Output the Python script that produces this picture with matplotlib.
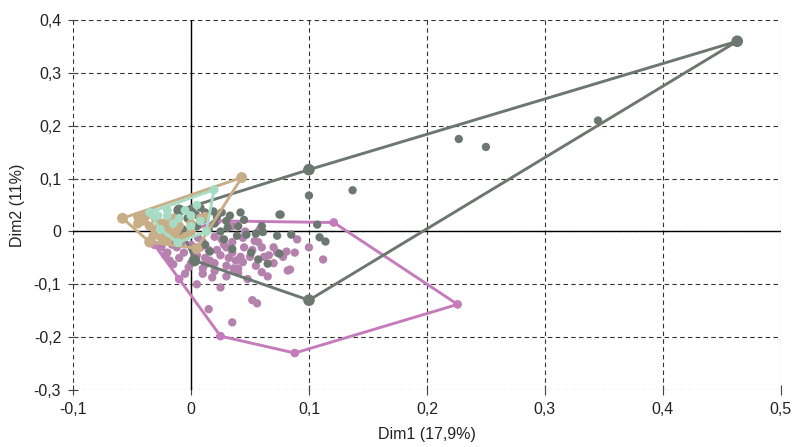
import matplotlib.pyplot as plt
import numpy as np
from matplotlib.ticker import FuncFormatter

plt.rcParams['font.family'] = ['Liberation Sans', 'DejaVu Sans']

# group 1 (dark grey-green)
g1_x = [0.463, 0.345, 0.227, 0.250, 0.100, 0.137, 0.100, 0.076, 0.107, 0.109, 0.114, 0.100,
        0.085, 0.073, 0.061, 0.055, 0.047, 0.031, 0.039, 0.016, 0.051, 0.057, 0.065, 0.075,
        0.035, 0.003, -0.010, -0.008, 0.001, 0.008, 0.012, 0.019, 0.026, 0.042, 0.075, 0.010,
        0.020, 0.030, 0.005, 0.015, 0.025, 0.040, -0.003, 0.033, 0.022, 0.004, 0.045, 0.060,
        0.028, 0.012]
g1_y = [0.360, 0.210, 0.175, 0.160, 0.117, 0.078, 0.068, 0.032, 0.013, -0.011, -0.019, -0.130,
        -0.006, -0.008, -0.001, -0.004, -0.006, 0.007, -0.008, -0.038, -0.040, -0.053, -0.061, -0.042,
        -0.033, -0.055, 0.040, 0.002, 0.044, 0.045, 0.036, 0.038, 0.036, 0.036, 0.032, 0.022,
        0.015, 0.020, 0.010, 0.005, 0.000, 0.010, 0.025, 0.030, 0.028, 0.032, 0.022, 0.010,
        -0.015, -0.025]

# group 2 (mauve / pink)
g2_x = [-0.031, 0.022, 0.121, 0.226, 0.088, 0.025, 0.052, 0.056, 0.035, 0.015, 0.025, 0.018,
        0.082, 0.112, 0.081, 0.073, 0.066, 0.060, 0.065, 0.057, 0.044, 0.050, 0.040, 0.030,
        0.020, 0.010, 0.000, -0.010, -0.020, -0.015, -0.005, 0.005, 0.015, 0.025, 0.035, 0.045,
        0.055, 0.038, 0.028, 0.010, 0.000, -0.010, -0.025, 0.060, 0.070, 0.046, 0.058, 0.035,
        0.020, -0.005, 0.090, 0.100, 0.005, -0.010, 0.030, 0.048, 0.012, 0.002, 0.035, 0.084,
        -0.022, -0.018, -0.012, -0.006, 0.003, 0.008, 0.016, 0.022, 0.032, 0.042, 0.052, 0.062,
        0.070, 0.078, 0.088, -0.016, -0.002, 0.010, 0.020, 0.030, 0.040, 0.006, -0.008, 0.026,
        0.044, 0.012, 0.054, 0.036]
g2_y = [-0.025, 0.020, 0.017, -0.138, -0.230, -0.198, -0.130, -0.136, -0.172, -0.147, -0.106, -0.087,
        -0.074, -0.053, -0.038, -0.040, -0.045, -0.077, -0.085, -0.020, -0.058, -0.048, -0.070, -0.065,
        -0.060, -0.070, -0.060, -0.050, -0.040, -0.062, -0.080, -0.045, -0.035, -0.045, -0.040, -0.030,
        -0.065, -0.055, -0.025, -0.020, -0.025, -0.015, -0.030, -0.030, -0.060, 0.000, 0.003, 0.010,
        -0.010, -0.005, -0.015, -0.030, -0.100, -0.090, -0.085, -0.090, -0.050, -0.035, -0.020, -0.072,
        -0.045, -0.055, -0.030, -0.040, -0.055, -0.030, -0.055, -0.035, -0.050, -0.048, -0.035, -0.048,
        -0.030, -0.048, -0.040, -0.025, -0.068, -0.080, -0.075, -0.030, -0.078, -0.012, -0.022, -0.015,
        -0.012, -0.062, -0.018, -0.070]

# group 3 (tan)
g3_x = [-0.058, 0.043, 0.005, -0.035, -0.045, -0.040, -0.035, -0.030, -0.025, -0.020, -0.015,
        -0.010, -0.005, 0.000, -0.030, -0.020, -0.010, -0.032, -0.025, 0.008, -0.015, 0.000,
        -0.045, 0.012, -0.020, -0.038, -0.028, -0.012]
g3_y = [0.025, 0.102, -0.032, -0.020, 0.028, 0.020, 0.010, 0.000, 0.015, 0.005, -0.005,
        0.010, -0.010, 0.000, 0.025, 0.020, -0.015, -0.008, -0.012, 0.025, 0.025, 0.015,
        0.015, 0.028, -0.018, 0.030, 0.006, 0.002]

# group 4 (mint)
g4_x = [-0.035, 0.0195, 0.013, -0.011, -0.026, -0.020, -0.010, 0.000, 0.008, -0.028, -0.015,
        -0.005, 0.005, -0.020, 0.000]
g4_y = [0.036, 0.079, 0.000, -0.021, 0.004, 0.030, 0.025, 0.030, 0.020, 0.030, 0.015,
        0.040, 0.050, 0.040, 0.010]

groups = [
    (g2_x, g2_y, '#b482ad', '#c57cbc', 36, 36),
    (g1_x, g1_y, '#6c7770', '#6c7770', 36, 70),
    (g3_x, g3_y, '#c8ae86', '#c8ae86', 48, 62),
    (g4_x, g4_y, '#a6dcc4', '#a6dcc4', 40, 40),
]


def hull(xs, ys):
    pts = sorted(set(zip(xs, ys)))

    def cross(o, a, b):
        return (a[0] - o[0]) * (b[1] - o[1]) - (a[1] - o[1]) * (b[0] - o[0])

    lower, upper = [], []
    for p in pts:
        while len(lower) >= 2 and cross(lower[-2], lower[-1], p) <= 0:
            lower.pop()
        lower.append(p)
    for p in reversed(pts):
        while len(upper) >= 2 and cross(upper[-2], upper[-1], p) <= 0:
            upper.pop()
        upper.append(p)
    h = lower[:-1] + upper[:-1]
    return h + [h[0]]


fig = plt.figure(figsize=(7.96, 4.47), dpi=100)
ax = fig.add_axes([0.0917, 0.1275, 0.8893, 0.8275])

ax.axhline(0, color='black', lw=1.0, zorder=1)
ax.axvline(0, color='black', lw=1.0, zorder=1)

z = 2
for gx, gy, pc, lc, s, sv in groups:
    ax.scatter(gx, gy, s=s, color=pc, edgecolors='none', zorder=z)
    h = np.array(hull(gx, gy))
    ax.plot(h[:, 0], h[:, 1], color=lc, lw=2.1, zorder=z + 1, solid_joinstyle='round')
    ax.scatter(h[:-1, 0], h[:-1, 1], s=sv, color=lc, edgecolors='none', zorder=z + 1)
    z += 2

ax.set_xlim(-0.1, 0.5)
ax.set_ylim(-0.3, 0.4)
ax.set_xticks(np.arange(-0.1, 0.51, 0.1))
ax.set_yticks(np.arange(-0.3, 0.41, 0.1))


def fmt(v, pos):
    if abs(v) < 1e-9:
        return '0'
    return f'{v:.1f}'.replace('.', ',')


ax.xaxis.set_major_formatter(FuncFormatter(fmt))
ax.yaxis.set_major_formatter(FuncFormatter(fmt))
ax.grid(True, ls=(0, (4, 3)), color='#333333', lw=0.8, zorder=0)
ax.set_axisbelow(True)
for sp in ax.spines.values():
    sp.set_visible(False)
ax.tick_params(direction='inout', length=7, width=0.8, color='#444444',
               labelsize=11.5, labelcolor='#222222', pad=5)

ax.set_xlabel('Dim1 (17,9%)', fontsize=11.5, color='#222222', labelpad=7)
ax.set_ylabel('Dim2 (11%)', fontsize=11.5, color='#222222', labelpad=6)

fig.savefig('out.png', dpi=100)
